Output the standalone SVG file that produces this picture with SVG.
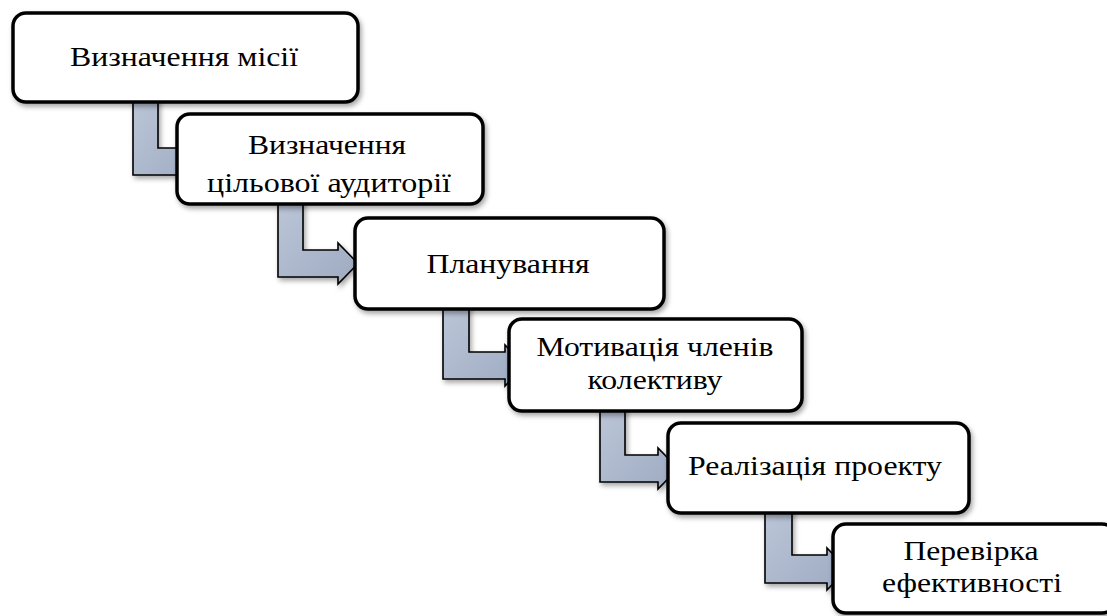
<svg xmlns="http://www.w3.org/2000/svg" width="1107" height="616" viewBox="0 0 1107 616">
<defs>
<linearGradient id="g" x1="0" y1="0" x2="1" y2="1">
<stop offset="0" stop-color="#bcc6d8"/>
<stop offset="1" stop-color="#9daac1"/>
</linearGradient>
<filter id="sh" x="-10%" y="-10%" width="130%" height="140%">
<feDropShadow dx="2" dy="3" stdDeviation="2.5" flood-color="#000" flood-opacity="0.35"/>
</filter>
</defs>
<style>
.box{fill:#fff;stroke:#000;stroke-width:3.5;filter:url(#sh)}
.arr{fill:url(#g);stroke:#000;stroke-width:1.6;stroke-linejoin:miter;filter:url(#sh)}
.t{font-family:"Liberation Serif","Times New Roman",serif;font-size:28px;fill:#000;text-anchor:middle}
</style>
<rect width="1107" height="616" fill="#fff"/>
<g id="connectors">
<path class="arr" d="M133,97 L158,97 L158,148 L178,148 L178,141 L198,161.5 L178,182 L178,175 L133,175 Z"/>
<path class="arr" d="M278,199 L303,199 L303,250 L338,250 L338,243 L358,263.5 L338,284 L338,277 L278,277 Z"/>
<path class="arr" d="M443,304 L469,304 L469,352 L505,352 L505,345 L525,365.5 L505,386 L505,379 L443,379 Z"/>
<path class="arr" d="M600,406 L625,406 L625,455 L658,455 L658,448 L678,468.5 L658,489 L658,482 L600,482 Z"/>
<path class="arr" d="M765,508 L792,508 L792,555 L827,555 L827,548 L847,569 L827,590 L827,583 L765,583 Z"/>
</g>
<g id="n1">
<rect class="box" x="13" y="13" width="345" height="89" rx="13"/>
<text class="t" x="184" y="66" textLength="228" lengthAdjust="spacingAndGlyphs">Визначення місії</text>
</g>
<g id="n2">
<rect class="box" x="177" y="114" width="306" height="90" rx="13"/>
<text class="t" x="327" y="154" textLength="158" lengthAdjust="spacingAndGlyphs">Визначення</text>
<text class="t" x="329" y="192" textLength="244" lengthAdjust="spacingAndGlyphs">цільової аудиторії</text>
</g>
<g id="n3">
<rect class="box" x="355" y="218" width="309" height="91" rx="13"/>
<text class="t" x="508" y="273" textLength="163" lengthAdjust="spacingAndGlyphs">Планування</text>
</g>
<g id="n4">
<rect class="box" x="509" y="319" width="293" height="92" rx="13"/>
<text class="t" x="655" y="356" textLength="237" lengthAdjust="spacingAndGlyphs">Мотивація членів</text>
<text class="t" x="655" y="389" textLength="135" lengthAdjust="spacingAndGlyphs">колективу</text>
</g>
<g id="n5">
<rect class="box" x="668" y="423" width="301" height="90" rx="13"/>
<text class="t" x="815" y="475" textLength="254" lengthAdjust="spacingAndGlyphs">Реалізація проекту</text>
</g>
<g id="n6">
<rect class="box" x="833" y="524" width="282" height="89" rx="13"/>
<text class="t" x="971" y="560" textLength="135" lengthAdjust="spacingAndGlyphs">Перевірка</text>
<text class="t" x="972" y="592" textLength="180" lengthAdjust="spacingAndGlyphs">ефективності</text>
</g>
</svg>
